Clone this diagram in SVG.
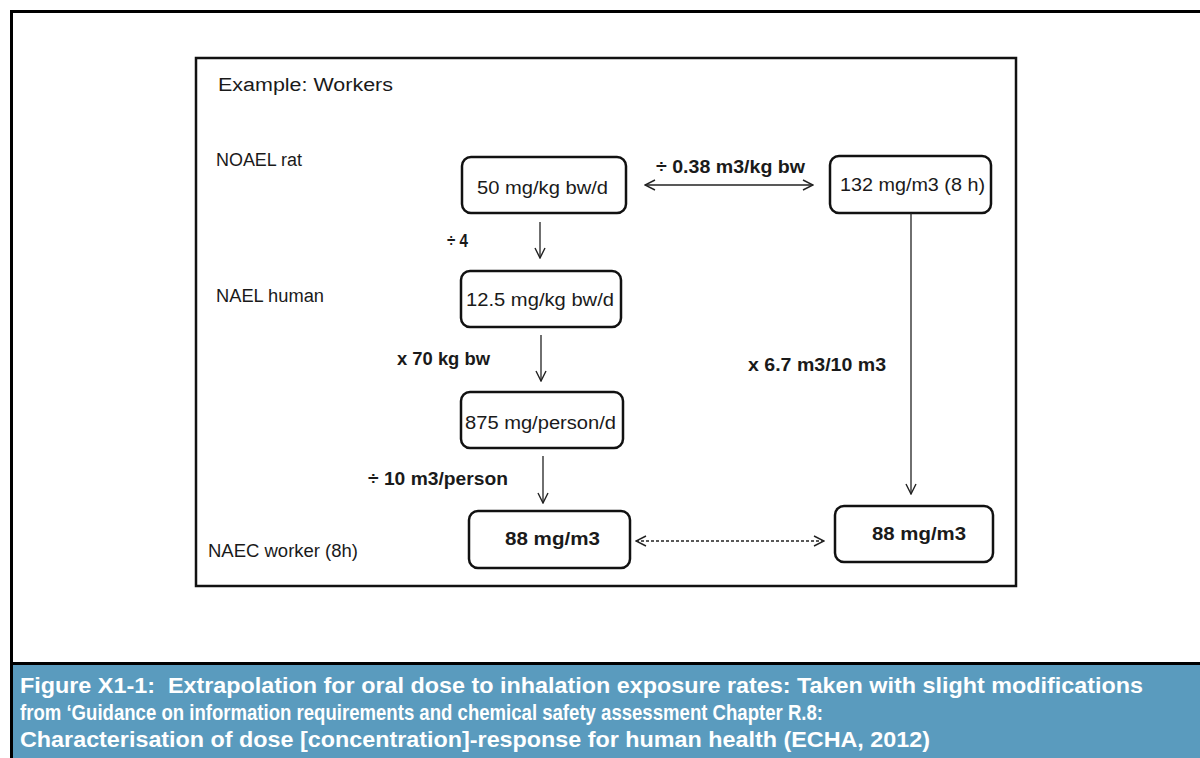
<svg xmlns="http://www.w3.org/2000/svg" width="1200" height="758" viewBox="0 0 1200 758">
  <defs>
    <style>
      .lbl { font-family: "Liberation Sans", "Open Sans", sans-serif; font-size: 18px; fill: #1a1a1a; }
      .bold { font-weight: bold; }
      .box { fill: #ffffff; stroke: #111111; stroke-width: 2.5; }
      .conn { stroke: #222222; stroke-width: 1.3; fill: none; }
      .dash { stroke-dasharray: 3 2; }
      .cap { font-family: "Liberation Sans", sans-serif; font-size: 22px; font-weight: bold; fill: #ffffff; white-space: pre; }
    </style>
    <marker id="head" viewBox="0 0 12 12" refX="11" refY="6" markerWidth="12" markerHeight="12" markerUnits="userSpaceOnUse" orient="auto-start-reverse">
      <path d="M1,1 L11,6 L1,11" fill="none" stroke="#222222" stroke-width="1.4"/>
    </marker>
  </defs>

  <rect width="1200" height="758" fill="#ffffff"/>

  <!-- outer page frame -->
  <path d="M1200,11.5 H11.5 V758" fill="none" stroke="#000000" stroke-width="3"/>
  <line x1="11" y1="663.5" x2="1200" y2="663.5" stroke="#000000" stroke-width="3"/>

  <!-- caption band -->
  <rect x="13" y="665" width="1187" height="93" fill="#5a9bbe"/>
  <text class="cap" x="20" y="693" textLength="1123" lengthAdjust="spacingAndGlyphs">Figure X1-1:  Extrapolation for oral dose to inhalation exposure rates: Taken with slight modifications</text>
  <text class="cap" x="20" y="720" textLength="803" lengthAdjust="spacingAndGlyphs">from ‘Guidance on information requirements and chemical safety assessment Chapter R.8:</text>
  <text class="cap" x="20" y="747" textLength="910" lengthAdjust="spacingAndGlyphs">Characterisation of dose [concentration]-response for human health (ECHA, 2012)</text>

  <!-- diagram frame -->
  <rect x="196" y="58" width="820" height="528" fill="#ffffff" stroke="#111111" stroke-width="2.5"/>

  <!-- row labels -->
  <text class="lbl" x="218" y="91" font-size="20" textLength="175" lengthAdjust="spacingAndGlyphs">Example: Workers</text>
  <text class="lbl" x="216" y="166" textLength="86" lengthAdjust="spacingAndGlyphs">NOAEL rat</text>
  <text class="lbl" x="216" y="302" textLength="108" lengthAdjust="spacingAndGlyphs">NAEL human</text>
  <text class="lbl" x="208" y="557" textLength="150" lengthAdjust="spacingAndGlyphs">NAEC worker (8h)</text>

  <!-- nodes -->
  <g id="node-rat-oral">
    <rect class="box" x="462" y="157" width="164" height="56" rx="9"/>
    <text class="lbl" x="477" y="194" textLength="131" lengthAdjust="spacingAndGlyphs">50 mg/kg bw/d</text>
  </g>
  <g id="node-rat-inhal">
    <rect class="box" x="830" y="156" width="161" height="57" rx="9"/>
    <text class="lbl" x="840" y="191" textLength="145" lengthAdjust="spacingAndGlyphs">132 mg/m3 (8 h)</text>
  </g>
  <g id="node-human-oral">
    <rect class="box" x="461" y="271" width="160" height="56" rx="9"/>
    <text class="lbl" x="466" y="306" textLength="148" lengthAdjust="spacingAndGlyphs">12.5 mg/kg bw/d</text>
  </g>
  <g id="node-person">
    <rect class="box" x="461" y="392" width="162" height="56" rx="9"/>
    <text class="lbl" x="465" y="429" textLength="151" lengthAdjust="spacingAndGlyphs">875 mg/person/d</text>
  </g>
  <g id="node-worker-left">
    <rect class="box" x="469" y="511" width="161" height="57" rx="9"/>
    <text class="lbl bold" x="505" y="545" textLength="95" lengthAdjust="spacingAndGlyphs">88 mg/m3</text>
  </g>
  <g id="node-worker-right">
    <rect class="box" x="835" y="506" width="158" height="56" rx="9"/>
    <text class="lbl bold" x="872" y="540" textLength="94" lengthAdjust="spacingAndGlyphs">88 mg/m3</text>
  </g>

  <!-- connectors -->
  <g id="connectors">
    <line class="conn" x1="645" y1="185" x2="813" y2="185" marker-start="url(#head)" marker-end="url(#head)"/>
    <line class="conn" x1="540" y1="222" x2="540" y2="258" marker-end="url(#head)"/>
    <line class="conn" x1="541" y1="335" x2="541" y2="381" marker-end="url(#head)"/>
    <line class="conn" x1="543" y1="456" x2="543" y2="503" marker-end="url(#head)"/>
    <line class="conn" x1="911" y1="213" x2="911" y2="494" marker-end="url(#head)"/>
    <line class="conn dash" x1="636" y1="541" x2="824" y2="541" marker-start="url(#head)" marker-end="url(#head)"/>
  </g>

  <!-- conversion factors -->
  <g id="factors">
    <text class="lbl bold" x="656" y="173" textLength="149" lengthAdjust="spacingAndGlyphs">÷ 0.38 m3/kg bw</text>
    <text class="lbl bold" x="447" y="247" textLength="21" lengthAdjust="spacingAndGlyphs">÷ 4</text>
    <text class="lbl bold" x="397" y="365" textLength="93" lengthAdjust="spacingAndGlyphs">x 70 kg bw</text>
    <text class="lbl bold" x="368" y="485" textLength="140" lengthAdjust="spacingAndGlyphs">÷ 10 m3/person</text>
    <text class="lbl bold" x="748" y="371" textLength="138" lengthAdjust="spacingAndGlyphs">x 6.7 m3/10 m3</text>
  </g>
</svg>
